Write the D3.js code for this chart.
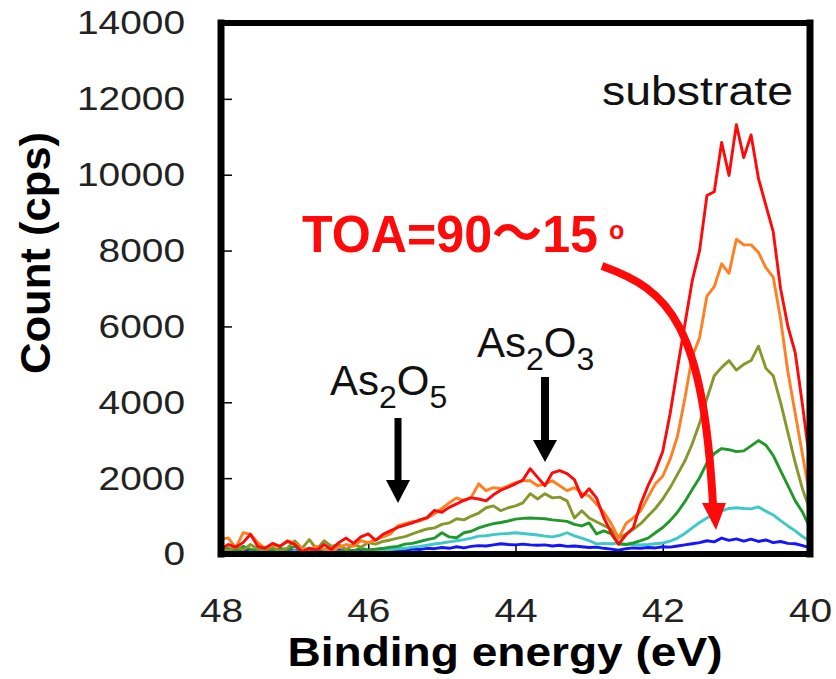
<!DOCTYPE html>
<html>
<head>
<meta charset="utf-8">
<script src="https://cdn.jsdelivr.net/npm/d3@7"></script>
<style>
  body { margin: 0; background: #fff; }
  svg { display: block; }
</style>
</head>
<body>
<svg id="chart" width="836" height="679"></svg>
<script>
// Binding energy grid (eV), high to low
const energy = [
  48.0, 47.9, 47.8, 47.7, 47.6, 47.5, 47.4, 47.3, 47.2, 47.1,
  47.0, 46.9, 46.8, 46.7, 46.6, 46.5, 46.4, 46.3, 46.2, 46.1,
  46.0, 45.9, 45.8, 45.7, 45.6, 45.5, 45.4, 45.3, 45.2, 45.1,
  45.0, 44.9, 44.8, 44.7, 44.6, 44.5, 44.4, 44.3, 44.2, 44.1,
  44.0, 43.9, 43.8, 43.7, 43.6, 43.5, 43.4, 43.3, 43.2, 43.1,
  43.0, 42.9, 42.8, 42.7, 42.6, 42.5, 42.4, 42.3, 42.2, 42.1,
  42.0, 41.9, 41.8, 41.7, 41.6, 41.5, 41.4, 41.3, 41.2, 41.1,
  41.0, 40.9, 40.8, 40.7, 40.6, 40.5, 40.4, 40.3, 40.2, 40.1,
  40.0
];

// As 3d spectra (cps), one per take-off angle, from steepest to most grazing
const countsRed = [
  130, 250, 180, 300, 520, 200, 150, 280, 200, 330,
  260, 60, 150, 100, 250, 120, 300, 420, 280, 450,
  530, 360, 520, 610, 700, 760, 820, 900, 960, 1150,
  1100, 1230, 1320, 1420, 1480, 1450, 1400, 1560, 1680, 1760,
  1850, 1950, 2250, 2020, 1800, 2140, 2200, 2120, 1960, 1500,
  1720, 1480, 950, 560, 260, 500, 690, 1320, 1800, 2200,
  2700, 3700, 4900, 6050, 7200, 8000, 9450, 9550, 10850, 9980,
  11320, 10450, 11050, 9900, 9200, 8500, 7000, 6000, 5300, 3900,
  2400
];
const countsOrange = [
  400, 420, 160, 560, 520, 300, 150, 240, 200, 350,
  280, 150, 120, 200, 130, 60, 180, 250, 200, 350,
  300, 380, 450, 530, 740, 800, 850, 870, 950, 1060,
  1200, 1350, 1480, 1400, 1500, 1850, 1670, 1750, 1720, 1800,
  1880, 1930, 1930, 1800, 1850, 1930, 1800, 1670, 1750, 1600,
  1530, 1320, 1100, 800, 420, 800, 950, 1140, 1500, 1850,
  2050, 2500, 3100, 4100, 5200, 5700, 6800, 7050, 7650, 7400,
  8300, 8150, 8150, 7950, 7550, 7300, 6200, 4800, 3700, 2600,
  1500
];
const countsOlive = [
  150, 80, 200, 100, 250, 130, 100, 180, 80, 150,
  350, 150, 380, 120, 350, 200, 250, 120, 250, 180,
  300, 260, 330, 370, 420, 460, 530, 600, 660, 690,
  780, 820, 930, 900, 1000, 1080, 1220, 1270, 1140, 1220,
  1270, 1350, 1590, 1450, 1590, 1480, 1500, 1400, 950, 1140,
  950, 850, 750, 660, 420, 530, 650, 800, 1000, 1200,
  1450, 1750, 2100, 2450, 2900, 3450, 4100, 4700, 4920, 5100,
  4850, 5000, 5100, 5480, 4900, 4700, 4000, 3200, 2400, 1700,
  1150
];
const countsGreen = [
  100, 150, 80, 200, 120, 100, 180, 90, 150, 120,
  200, 100, 150, 80, 120, 100, 60, 120, 80, 150,
  100, 130, 150, 180, 200, 260, 280, 330, 380, 420,
  560, 450, 430, 560, 600, 690, 750, 800, 830, 870,
  920, 940, 950, 940, 930, 900, 880, 860, 780, 740,
  820, 530, 610, 530, 260, 250, 290, 350, 420, 560,
  700, 880, 1100, 1380, 1700, 2010, 2400, 2650, 2780, 2750,
  2700, 2720, 2850, 2990, 2870, 2600, 2200, 1800, 1400, 1100,
  690
];
const countsCyan = [
  60, 40, 70, 30, 50, 40, 60, 30, 50, 40,
  70, 40, 50, 30, 60, 50, 40, 70, 60, 50,
  80, 90, 100, 120, 140, 150, 180, 200, 230, 265,
  290, 320, 350, 380, 420, 470, 480, 510, 530, 540,
  560, 540, 520, 500, 470, 450, 490, 560, 480, 420,
  350, 265, 280, 270, 290, 260, 250, 240, 250, 270,
  290, 340, 420, 540, 690, 830, 950, 1050, 1140, 1200,
  1220, 1200, 1190, 1240, 1130, 1030, 880, 740, 610, 460,
  330
];
const countsBlue = [
  80, 100, 90, 110, 80, 100, 90, 120, 90, 100,
  80, 110, 90, 100, 120, 90, 110, 100, 90, 120,
  100, 110, 90, 120, 100, 90, 130, 120, 150, 140,
  170, 150, 190, 160, 200, 220, 210, 240, 270, 250,
  240, 260, 240, 230, 240, 210, 230, 200, 210, 190,
  170, 180, 150, 130, 100, 140, 160, 150, 170, 160,
  190, 180, 210, 240, 270, 300, 350, 320, 420, 360,
  400, 340, 390, 330, 370, 300, 330, 280, 270, 220,
  160
];

const xTicks = [48, 46, 44, 42, 40];
const yTicks = [0, 2000, 4000, 6000, 8000, 10000, 12000, 14000];

// Drawing order: grazing angle first so the bulk-sensitive trace sits on top
const series = [
  { values: countsBlue,   color: "#1414ff" },
  { values: countsCyan,   color: "#3fc8c8" },
  { values: countsGreen,  color: "#20992a" },
  { values: countsOlive,  color: "#87982a" },
  { values: countsOrange, color: "#ff7f22" },
  { values: countsRed,    color: "#ff0a0a" }
];

const FONT = "'Liberation Sans', Arial, 'Noto Sans CJK JP', sans-serif";
const svg = d3.select("#chart");

const plotLeft = 221, plotRight = 810, plotTop = 23, plotBottom = 554;
const x = d3.scaleLinear().domain([48, 40]).range([plotLeft, plotRight]);
const y = d3.scaleLinear().domain([0, 14000]).range([plotBottom, plotTop]);

// Axes with inward ticks
const yAxis = svg.append("g")
  .attr("transform", `translate(${plotLeft},0)`)
  .call(d3.axisLeft(y).tickValues(yTicks).tickSize(-11).tickPadding(36)
        .tickFormat(d3.format("d")));
const xAxis = svg.append("g")
  .attr("transform", `translate(0,${plotBottom})`)
  .call(d3.axisBottom(x).tickValues(xTicks).tickSize(-10).tickPadding(44)
        .tickFormat(d3.format("d")));

[yAxis, xAxis].forEach(g => {
  g.select(".domain").remove();
  g.selectAll(".tick line").attr("stroke", "#000").attr("stroke-width", 1.5);
  g.selectAll(".tick text")
    .attr("font-family", FONT)
    .attr("font-size", 34)
    .attr("fill", "#222")
    .attr("lengthAdjust", "spacingAndGlyphs")
    .attr("textLength", d => String(d).length * 21.6);
});
xAxis.selectAll(".tick line").filter(d => d === 48 || d === 40).remove();

// Spectra
const line = d3.line()
  .x((d, i) => x(energy[i]))
  .y(d => y(d));

svg.append("g")
  .selectAll("path")
  .data(series)
  .join("path")
  .attr("d", s => line(s.values))
  .attr("fill", "none")
  .attr("stroke", s => s.color)
  .attr("stroke-width", 2.9)
  .attr("stroke-linejoin", "round");

// Plot frame
const frame = svg.append("g").attr("stroke", "#000").attr("stroke-linecap", "square");
frame.append("line").attr("x1", plotLeft).attr("x2", plotRight).attr("y1", plotTop).attr("y2", plotTop).attr("stroke-width", 6);
frame.append("line").attr("x1", plotLeft).attr("x2", plotRight).attr("y1", plotBottom).attr("y2", plotBottom).attr("stroke-width", 6);
frame.append("line").attr("x1", plotLeft).attr("x2", plotLeft).attr("y1", plotTop).attr("y2", plotBottom).attr("stroke-width", 7);
frame.append("line").attr("x1", plotRight).attr("x2", plotRight).attr("y1", plotTop).attr("y2", plotBottom).attr("stroke-width", 7);

// Axis titles
svg.append("text")
  .attr("x", 505).attr("y", 666)
  .attr("text-anchor", "middle")
  .attr("font-family", FONT).attr("font-weight", "bold").attr("font-size", 41)
  .attr("textLength", 435).attr("lengthAdjust", "spacingAndGlyphs")
  .text("Binding energy (eV)");

svg.append("text")
  .attr("transform", "translate(50,253) rotate(-90)")
  .attr("text-anchor", "middle")
  .attr("font-family", FONT).attr("font-weight", "bold").attr("font-size", 42)
  .attr("textLength", 242).attr("lengthAdjust", "spacingAndGlyphs")
  .text("Count (cps)");

// Chemical-state labels with subscripts
function formula(xPos, yPos, a, b) {
  const t = svg.append("text")
    .attr("x", xPos).attr("y", yPos)
    .attr("font-family", FONT).attr("font-size", 42).attr("fill", "#111");
  t.append("tspan").text("As");
  t.append("tspan").attr("font-size", 32).attr("dy", 13).text(a);
  t.append("tspan").attr("dy", -13).text("O");
  t.append("tspan").attr("font-size", 32).attr("dy", 13).text(b);
}
formula(330, 395, "2", "5");
formula(477, 357, "2", "3");

// Downward marker arrows
function downArrow(cx, y0, yHead, yTip, halfW, w) {
  svg.append("line")
    .attr("x1", cx).attr("x2", cx).attr("y1", y0).attr("y2", yHead + 2)
    .attr("stroke", "#000").attr("stroke-width", w);
  svg.append("polygon")
    .attr("points", `${cx - halfW},${yHead} ${cx + halfW},${yHead} ${cx},${yTip}`)
    .attr("fill", "#000");
}
downArrow(398, 418, 480, 503, 12, 7);
downArrow(545, 377, 440, 462, 12, 8);

// Substrate label
svg.append("text")
  .attr("x", 602).attr("y", 105)
  .attr("font-family", FONT).attr("font-size", 40).attr("fill", "#111")
  .attr("textLength", 191).attr("lengthAdjust", "spacingAndGlyphs")
  .text("substrate");

// Take-off angle annotation
svg.append("text")
  .attr("x", 302).attr("y", 252)
  .attr("font-family", FONT).attr("font-weight", "bold").attr("font-size", 52)
  .attr("fill", "#ff0a0a")
  .attr("textLength", 296).attr("lengthAdjust", "spacingAndGlyphs")
  .text("TOA=90～15");
svg.append("text")
  .attr("x", 609).attr("y", 239)
  .attr("font-family", FONT).attr("font-weight", "bold").attr("font-size", 25)
  .attr("fill", "#ff0a0a")
  .text("o");

// Curved red arrow toward the grazing-angle spectra
svg.append("path")
  .attr("d", "M602,266 C670,290 703,325 713,505")
  .attr("fill", "none").attr("stroke", "#ff0a0a").attr("stroke-width", 8);
svg.append("polygon")
  .attr("points", "702,503 726,503 716,530")
  .attr("fill", "#ff0a0a");
</script>
</body>
</html>
